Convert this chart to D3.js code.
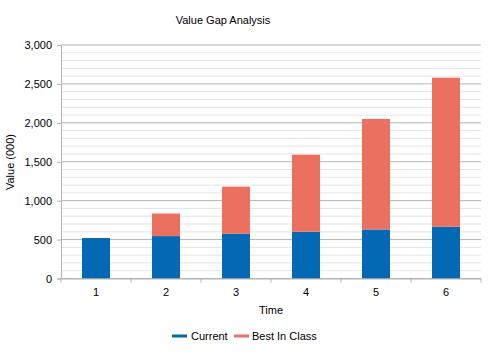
<!DOCTYPE html>
<html><head><meta charset="utf-8">
<script src="https://cdn.jsdelivr.net/npm/d3@7"></script>
<style>body{margin:0;background:#fff;} text{font-family:"Liberation Sans",Arial,sans-serif;}</style>
</head><body><svg id="c" width="488" height="356"></svg>
<script>
const categories = ["1","2","3","4","5","6"];
const current = [520, 545, 575, 600, 630, 665];
const bestInClassGap = [0, 290, 605, 990, 1420, 1915];
const yTicks = [0, 500, 1000, 1500, 2000, 2500, 3000];
const seriesNames = ["Current", "Best In Class"];
const colors = ["#0369b5", "#ec7060"];

const svg = d3.select("#c");
const L = 61, R = 481, T = 45, B = 278.5;
const x = d3.scaleBand().domain(categories).range([L, R]).paddingInner(0.6).paddingOuter(0.3);
const xb = d3.scaleBand().domain(categories).range([L, R]);
const y = d3.scaleLinear().domain([0, 3000]).range([B, T]);

// minor gridlines
const minor = d3.range(0, 3001, 100).filter(v => v % 500 !== 0);
svg.append("g").selectAll("line").data(minor).join("line")
  .attr("x1", L).attr("x2", R).attr("y1", d => y(d)).attr("y2", d => y(d))
  .attr("stroke", "#e4e4e4").attr("stroke-width", 1);
svg.append("g").selectAll("line").data(yTicks).join("line")
  .attr("x1", L).attr("x2", R).attr("y1", d => y(d)).attr("y2", d => y(d))
  .attr("stroke", "#b3b3b3").attr("stroke-width", 1);

const data = categories.map((c, i) => ({cat: c, current: current[i], best: bestInClassGap[i]}));
const stack = d3.stack().keys(["current", "best"])(data);
svg.append("g").selectAll("g").data(stack).join("g")
  .attr("fill", (d, i) => colors[i])
  .selectAll("rect").data(d => d).join("rect")
  .attr("x", d => x(d.data.cat)).attr("width", x.bandwidth())
  .attr("y", d => y(d[1])).attr("height", d => y(d[0]) - y(d[1]));

// axes
const yAxis = d3.axisLeft(y).tickValues(yTicks).tickSize(4).tickPadding(5).tickFormat(d3.format(","));
const gy = svg.append("g").attr("transform", `translate(${L},0)`).call(yAxis);
gy.select(".domain").attr("stroke", "#b3b3b3");
gy.selectAll(".tick line").attr("stroke", "#b3b3b3");
gy.selectAll("text").attr("font-size", 11).attr("fill", "#000");

const xAxis = d3.axisBottom(xb).tickSize(0).tickPadding(10);
const gx = svg.append("g").attr("transform", `translate(0,${B})`).call(xAxis);
gx.select(".domain").attr("stroke", "#b3b3b3");
gx.selectAll("text").attr("font-size", 11).attr("fill", "#000");
const bounds = categories.map(c => xb(c)).concat([R]);
svg.append("g").selectAll("line").data(bounds).join("line")
  .attr("x1", d => d).attr("x2", d => d).attr("y1", B).attr("y2", B + 4)
  .attr("stroke", "#b3b3b3");

// titles
svg.append("text").attr("x", 223).attr("y", 24).attr("text-anchor", "middle")
  .attr("font-size", 11).text("Value Gap Analysis");
svg.append("text").attr("x", 271).attr("y", 314).attr("text-anchor", "middle")
  .attr("font-size", 11).text("Time");
svg.append("text").attr("transform", "translate(14,162) rotate(-90)").attr("text-anchor", "middle")
  .attr("font-size", 11).text("Value (000)");

// legend
const leg = [{x: 172, tx: 191}, {x: 234, tx: 252}];
seriesNames.forEach((n, i) => {
  svg.append("line").attr("x1", leg[i].x).attr("x2", leg[i].x + 15).attr("y1", 336).attr("y2", 336)
    .attr("stroke", colors[i]).attr("stroke-width", 3);
  svg.append("text").attr("x", leg[i].tx).attr("y", 340).attr("font-size", 11).text(n);
});
</script></body></html>
